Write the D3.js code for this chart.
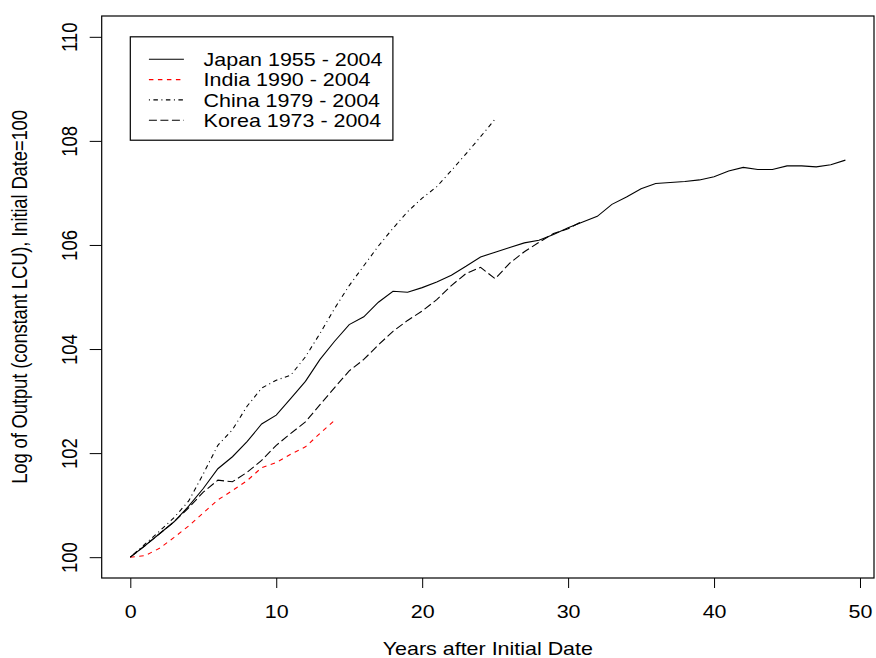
<!DOCTYPE html>
<html>
<head>
<meta charset="utf-8">
<script src="https://cdn.jsdelivr.net/npm/d3@7"></script>
<style>
  body { margin: 0; background: #fff; }
</style>
</head>
<body>
<div id="graph"></div>
<script>
///////////////////////////////////////////////////////////////////////////////
// Data: log output, initial year = 100, one value per year after start //////
///////////////////////////////////////////////////////////////////////////////

const japan = [
  100.0, 100.22, 100.45, 100.68, 100.98, 101.32, 101.7, 101.93, 102.22, 102.56,
  102.73, 103.05, 103.38, 103.8, 104.15, 104.47, 104.62, 104.9, 105.11, 105.09,
  105.18, 105.29, 105.42, 105.59, 105.77, 105.86, 105.95, 106.04, 106.09, 106.2,
  106.33, 106.44, 106.55, 106.78, 106.92, 107.08, 107.18, 107.2, 107.22, 107.25,
  107.31, 107.42, 107.49, 107.45, 107.45, 107.52, 107.52, 107.5, 107.54, 107.63,
];
const india = [
  100.0, 100.03, 100.17, 100.38, 100.6, 100.85, 101.1, 101.28, 101.47, 101.72,
  101.82, 101.98, 102.12, 102.38, 102.63,
];
const china = [
  100.0, 100.25, 100.5, 100.76, 101.08, 101.6, 102.15, 102.45, 102.9, 103.25,
  103.4, 103.5, 103.85, 104.3, 104.78, 105.22, 105.6, 105.98, 106.32, 106.64,
  106.9, 107.12, 107.43, 107.75, 108.08, 108.42,
];
const korea = [
  100.0, 100.22, 100.45, 100.68, 100.95, 101.25, 101.48, 101.45, 101.63, 101.86,
  102.15, 102.38, 102.6, 102.93, 103.26, 103.58, 103.8, 104.08, 104.34, 104.55,
  104.73, 104.95, 105.22, 105.45, 105.57, 105.35, 105.65, 105.87, 106.05, 106.22,
  106.31, 106.46,
];

const seriesLabels = [
  "Japan 1955 - 2004",
  "India 1990 - 2004",
  "China 1979 - 2004",
  "Korea 1973 - 2004",
];
const xTicks = [0, 10, 20, 30, 40, 50];
const yTicks = [100, 102, 104, 106, 108, 110];

///////////////////////////////////////////////////////////////////////////////
// Layout / style /////////////////////////////////////////////////////////////
///////////////////////////////////////////////////////////////////////////////

const width = 876;
const height = 658;
const plot = { left: 101.7, right: 874, top: 16, bottom: 578 };
const fontSize = 18.5;
// the reference looks stretched sideways, text included
const stretch = 1.16;

// R line types: solid, dashed, dotdash, longdash
const styles = [
  { color: "#000", dash: null },
  { color: "#ff0000", dash: "4.5,4.5" },
  { color: "#000", dash: "1,3.5,4.5,3.5" },
  { color: "#000", dash: "8,3.5" },
];
const series = [japan, india, china, korea];

///////////////////////////////////////////////////////////////////////////////

function textTransform(x, y, rotate) {
  return `translate(${x},${y}) scale(${stretch},1)` +
    (rotate ? ` rotate(${rotate})` : "");
}

function drawChart() {
  const svg = d3
    .select("#graph")
    .append("svg")
    .attr("width", width)
    .attr("height", height)
    .style("font-family", "'Liberation Sans', Arial, Helvetica, sans-serif")
    .style("font-size", fontSize + "px");

  svg.append("rect")
    .attr("width", width)
    .attr("height", height)
    .attr("fill", "#fff");

  // R's 4% axis padding around 0..49 and 100..110
  const x = d3.scaleLinear().domain([-1.96, 50.96]).range([plot.left, plot.right]);
  const y = d3.scaleLinear().domain([99.6, 110.4]).range([plot.bottom, plot.top]);

  // Bottom axis
  const xAxis = svg.append("g")
    .attr("transform", `translate(0,${plot.bottom})`)
    .call(d3.axisBottom(x).tickValues(xTicks).tickSize(10).tickSizeOuter(0));
  xAxis.select(".domain").remove();
  xAxis.selectAll(".tick line").attr("stroke", "#000");
  xAxis.selectAll(".tick text")
    .attr("y", null)
    .attr("dy", null)
    .attr("fill", "#000")
    .style("font-size", fontSize + "px")
    .attr("transform", textTransform(0, 40.3));

  // Left axis, labels rotated like R's default las=0
  const yAxis = svg.append("g")
    .attr("transform", `translate(${plot.left},0)`)
    .call(d3.axisLeft(y).tickValues(yTicks).tickSize(12).tickSizeOuter(0));
  yAxis.select(".domain").remove();
  yAxis.selectAll(".tick line").attr("stroke", "#000");
  yAxis.selectAll(".tick text")
    .attr("x", null)
    .attr("dy", null)
    .attr("fill", "#000")
    .attr("text-anchor", "middle")
    .style("font-size", fontSize + "px")
    .attr("transform", textTransform(-25, 0, -90));

  // Plot box
  svg.append("rect")
    .attr("x", plot.left)
    .attr("y", plot.top)
    .attr("width", plot.right - plot.left)
    .attr("height", plot.bottom - plot.top)
    .attr("fill", "none")
    .attr("stroke", "#000")
    .attr("stroke-width", 1.2);

  // Series lines
  const line = d3.line()
    .x((d, i) => x(i))
    .y(d => y(d));

  series.forEach((values, k) => {
    svg.append("path")
      .datum(values)
      .attr("d", line)
      .attr("fill", "none")
      .attr("stroke", styles[k].color)
      .attr("stroke-width", 1.1)
      .attr("stroke-dasharray", styles[k].dash);
  });

  // Legend anchored at (0, 110) in data units
  const lx = x(0);
  const ly = y(110);
  const legend = svg.append("g").attr("transform", `translate(${lx},${ly})`);
  legend.append("rect")
    .attr("width", 262.6)
    .attr("height", 103.4)
    .attr("fill", "#fff")
    .attr("stroke", "#000")
    .attr("stroke-width", 1.2);

  seriesLabels.forEach((label, k) => {
    const rowY = 22.5 + k * 20.3;
    legend.append("line")
      .attr("x1", 18.6)
      .attr("x2", 53.6)
      .attr("y1", rowY)
      .attr("y2", rowY)
      .attr("stroke", styles[k].color)
      .attr("stroke-width", 1.1)
      .attr("stroke-dasharray", styles[k].dash);
    legend.append("text")
      .attr("transform", textTransform(73.3, rowY + 6.6))
      .text(label);
  });

  // Axis titles
  svg.append("text")
    .attr("transform", textTransform((plot.left + plot.right) / 2, 655))
    .attr("text-anchor", "middle")
    .text("Years after Initial Date");

  svg.append("text")
    .attr("transform", textTransform(26.5, (plot.top + plot.bottom) / 2, -90))
    .attr("text-anchor", "middle")
    .style("letter-spacing", "-0.15px")
    .text("Log of Output (constant LCU), Initial Date=100");
}

drawChart();
</script>
</body>
</html>
